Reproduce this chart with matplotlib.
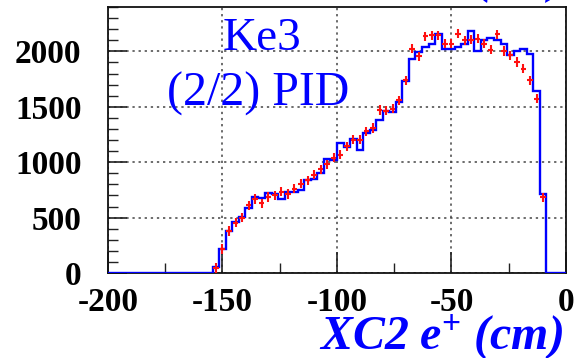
import numpy as np
import matplotlib
matplotlib.use('Agg')
import matplotlib.pyplot as plt
from matplotlib.ticker import MultipleLocator

plt.rcParams['font.family'] = ['Liberation Serif', 'DejaVu Serif']
plt.rcParams['mathtext.fontset'] = 'custom'
plt.rcParams['mathtext.rm'] = 'Liberation Serif:bold'
plt.rcParams['mathtext.it'] = 'Liberation Serif:bold:italic'

# 70 bins from -200 to 0 cm, non-empty bins are 16..66
n_bins = 70
first_bin = 16

# MC histogram (blue line)
mc_counts = [50, 216, 381, 457, 507, 588, 687, 673, 725, 709,
             664, 727, 730, 745, 838, 847, 900, 1033, 1018, 1170,
             1135, 1208, 1110, 1264, 1294, 1378, 1460, 1455, 1545, 1735,
             1934, 1994, 2039, 2070, 2159, 2018, 2018, 2039, 2069, 2180,
             2003, 2105, 2120, 2105, 2069, 1970, 2003, 2018, 1979, 1643,
             712]

# data points (red crosses)
data_counts = [45, 216, 380, 455, 500, 612, 667, 628, 685, 700,
               733, 712, 760, 805, 835, 888, 937, 980, 1040, 1068,
               1144, 1204, 1204, 1279, 1309, 1472, 1465, 1484, 1559, 1739,
               2024, 1955, 2135, 2144, 2144, 2069, 2069, 2159, 2099, 2105,
               2114, 2069, 2015, 2155, 2003, 1964, 1904, 1844, 1739, 1574,
               682]
data_err = 42

x_ticks = [-200, -150, -100, -50, 0]
y_ticks = [0, 500, 1000, 1500, 2000]

edges = np.linspace(-200, 0, n_bins + 1)
width = edges[1] - edges[0]
mc = np.zeros(n_bins)
mc[first_bin:first_bin + len(mc_counts)] = mc_counts
centers = edges[first_bin:first_bin + len(data_counts)] + width / 2

fig = plt.figure(figsize=(5.75, 3.58), dpi=100)
ax = fig.add_axes([0.1878, 0.2374, 0.7965, 0.743])

ax.stairs(mc, edges, color='#0000ff', linewidth=1.7, zorder=3)
ax.errorbar(centers, data_counts, xerr=width * 0.42, yerr=data_err,
            fmt='none', ecolor='#ff1010', elinewidth=1.5, zorder=4)

ax.set_xlim(-200, 0)
ax.set_ylim(0, 2400)
ax.set_xticks(x_ticks)
ax.set_yticks(y_ticks)
ax.set_xticklabels([str(t) for t in x_ticks])
ax.xaxis.set_minor_locator(MultipleLocator(25))
ax.yaxis.set_minor_locator(MultipleLocator(100))

ax.grid(True, which='major', color='#444444', linewidth=1.1,
        linestyle=(0, (1.5, 2.5)))
ax.set_axisbelow(True)

ax.tick_params(axis='both', which='both', direction='in', colors='#222222')
ax.tick_params(axis='x', which='major', length=15, width=1.2, pad=10)
ax.tick_params(axis='x', which='minor', length=7, width=1.0)
ax.tick_params(axis='y', which='major', length=14, width=1.2, pad=19)
ax.tick_params(axis='y', which='minor', length=7, width=1.0)
for lab in ax.get_xticklabels() + ax.get_yticklabels():
    lab.set_fontsize(24)
    lab.set_fontweight('bold')
    lab.set_color('black')
for sp in ax.spines.values():
    sp.set_linewidth(1.3)
    sp.set_color('#111111')

ax.text(0.25, 0.838, 'Ke3', transform=ax.transAxes, color='#0000ff',
        fontsize=34, va='baseline', ha='left')
ax.text(0.128, 0.628, '(2/2) PID', transform=ax.transAxes, color='#0000ff',
        fontsize=34.5, va='baseline', ha='left')

fig.text(563 / 575, 9 / 358, r'XC2 e$^{+}$ (cm)', color='#0000ff',
         fontsize=34.5, fontweight='bold', fontstyle='italic',
         ha='right', va='baseline')
# cut-off label from the pad above
fig.text(476 / 575, 1.02, '(cm)', color='#0000ff', fontsize=34,
         fontweight='bold', fontstyle='italic', ha='left', va='baseline')

fig.savefig('out.png', dpi=100)
